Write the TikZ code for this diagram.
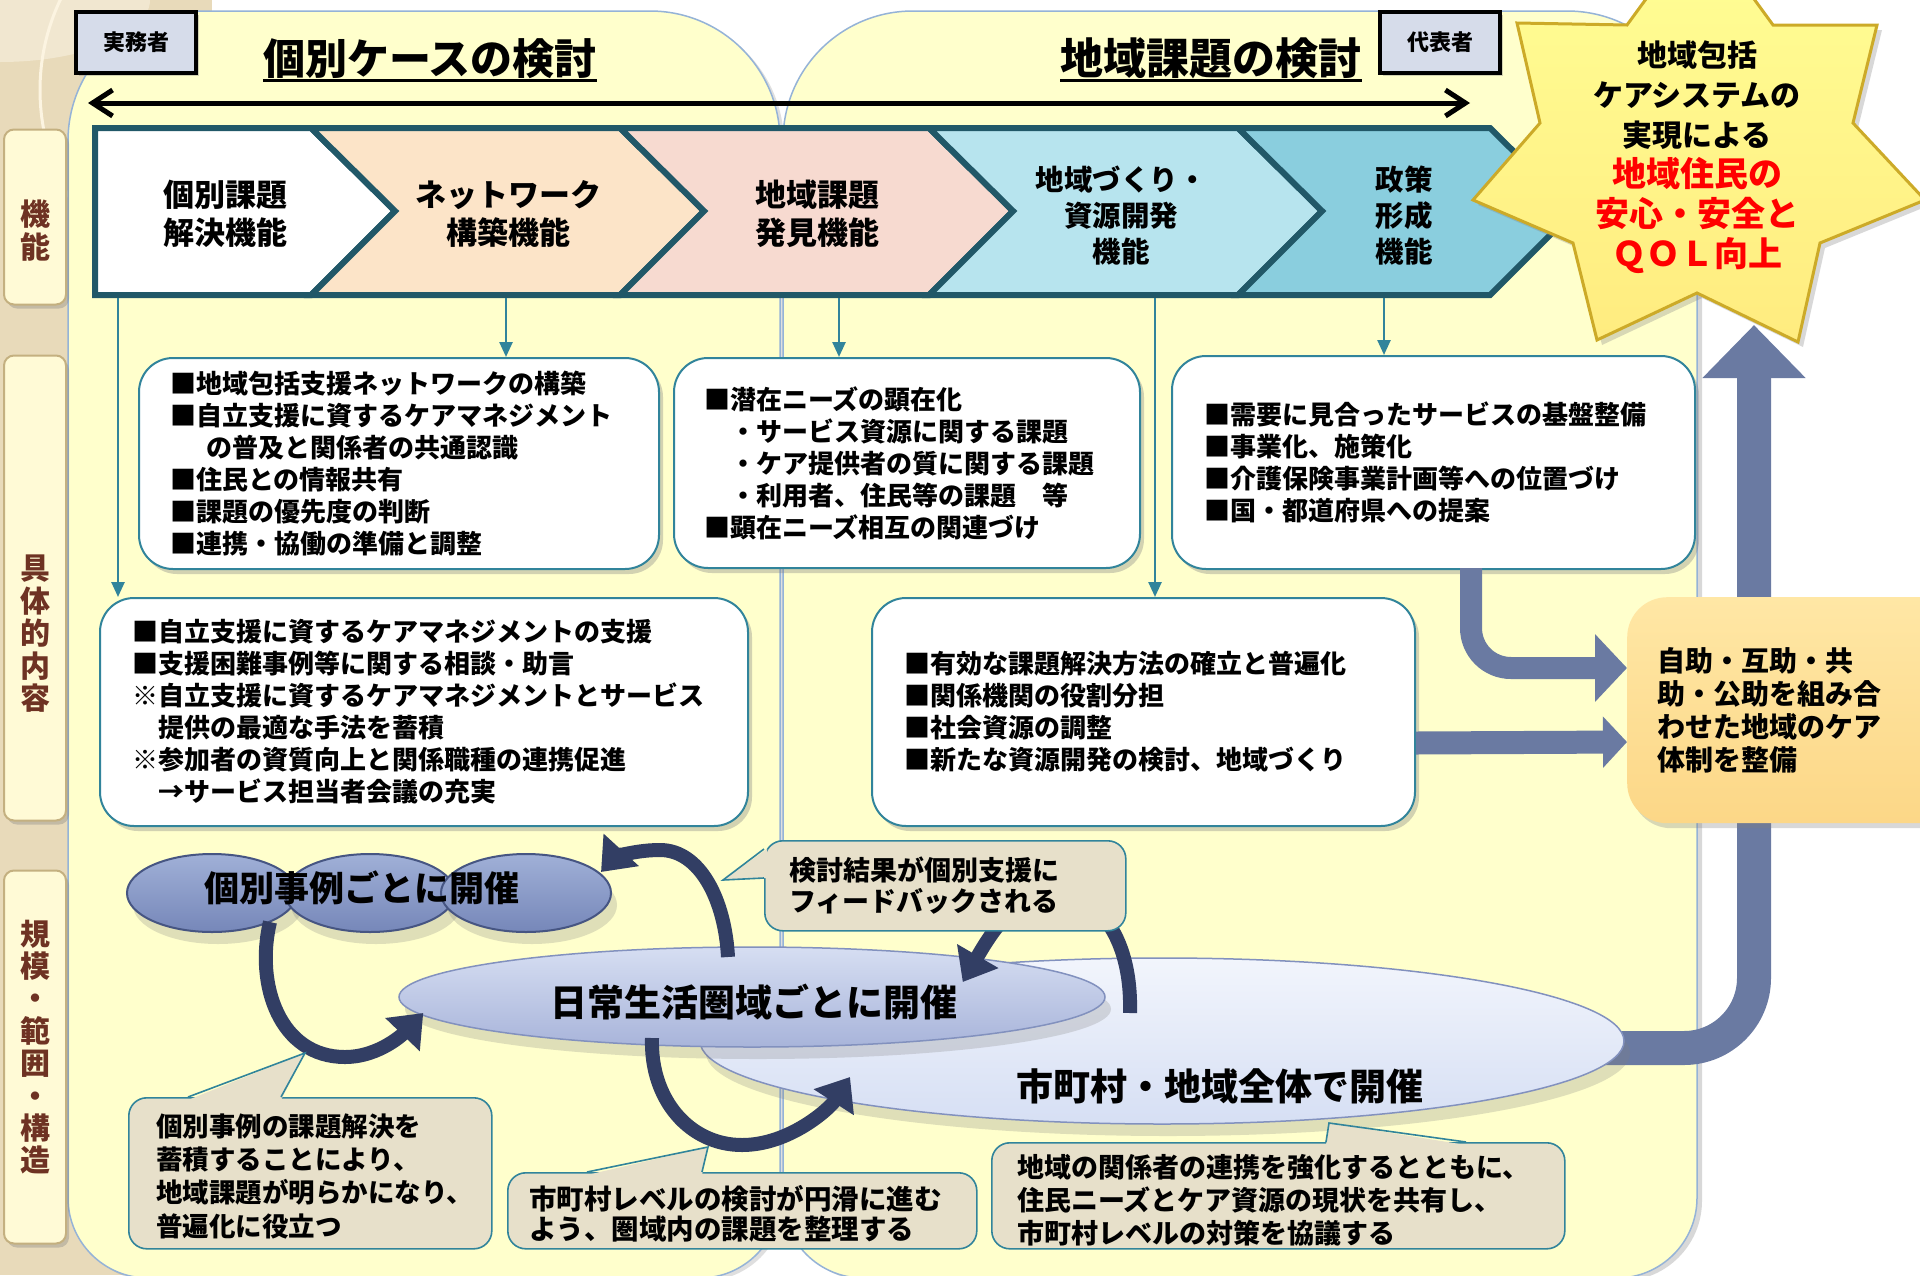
\documentclass[tikz,border=0pt]{standalone}
\usepackage{fontspec}
\setmainfont{Noto Sans CJK JP}
\usetikzlibrary{arrows.meta,shadows,shapes.geometric,calc}
\definecolor{panelc}{RGB}{255,255,204}
\definecolor{panelline}{RGB}{149,179,215}
\definecolor{beigec}{RGB}{232,218,186}
\definecolor{beigelt}{RGB}{241,231,208}
\definecolor{creamc}{RGB}{252,244,225}
\definecolor{barfill}{RGB}{255,250,214}
\definecolor{barline}{RGB}{196,176,128}
\definecolor{bartext}{RGB}{110,50,35}
\definecolor{tealc}{RGB}{49,132,155}
\definecolor{dtealc}{RGB}{33,88,104}
\definecolor{chevb}{RGB}{252,228,200}
\definecolor{chevc}{RGB}{247,218,208}
\definecolor{chevd}{RGB}{183,228,238}
\definecolor{cheve}{RGB}{138,206,222}
\definecolor{slatec}{RGB}{106,122,162}
\definecolor{navyc}{RGB}{50,62,100}
\definecolor{callc}{RGB}{231,224,202}
\definecolor{dtop}{RGB}{255,231,165}
\definecolor{dbot}{RGB}{252,215,135}
\definecolor{staryel}{RGB}{255,255,150}
\definecolor{starline}{RGB}{204,170,40}
\definecolor{ekt}{RGB}{160,176,215}
\definecolor{ekb}{RGB}{118,135,185}
\definecolor{ekline}{RGB}{70,85,130}
\definecolor{ent}{RGB}{214,222,242}
\definecolor{enb}{RGB}{168,180,218}
\definecolor{enline}{RGB}{130,145,190}
\definecolor{est}{RGB}{242,245,252}
\definecolor{esb}{RGB}{214,223,244}
\definecolor{rolec}{RGB}{214,220,234}
\definecolor{qred}{RGB}{255,0,0}
\newcommand{\jfs}[2]{\fontsize{#1}{#2}\selectfont\bfseries}
\begin{document}
\begin{tikzpicture}[x=1pt,y=-1pt,
  txt/.style={inner sep=0, align=left, anchor=west},
  ctxt/.style={inner sep=0, align=center},
  wbox/.style={draw=tealc, line width=2, fill=white, rounded corners=34, anchor=north west, inner sep=0,
    drop shadow={shadow xshift=4pt,shadow yshift=-5pt,opacity=.35}},
  callbox/.style={draw=tealc, line width=1.6, fill=callc, rounded corners=18, anchor=north west, inner sep=0},
  chev/.style={draw=dtealc, line width=6, line join=miter},
  conn/.style={draw=tealc, line width=2.5, -{Triangle[length=15pt,width=13pt]}},
  crv/.style={draw=navyc, line width=14, -{Triangle[length=30pt,width=46pt]}},
  lbar/.style={draw=barline, line width=2, fill=barfill, rounded corners=10, minimum width=62, inner sep=0,
    drop shadow={shadow xshift=3pt,shadow yshift=-4pt,opacity=.35}},
  role/.style={draw=black, line width=4, fill=rolec, minimum width=120, minimum height=61, inner sep=0,
    font=\jfs{22}{26}, drop shadow={shadow xshift=3pt,shadow yshift=-3pt,opacity=.35}},
  eshadow/.style={drop shadow={shadow xshift=6pt,shadow yshift=-12pt,opacity=.25}}
]
\useasboundingbox (0,0) rectangle (1920,1275);
\clip (0,0) rectangle (1920,1275);
% background
\fill[white] (0,0) rectangle (1920,1275);
\fill[beigec] (0,0) rectangle (212,1275);
\begin{scope}
  \clip (0,0) rectangle (212,1275);
  \fill[beigelt] (0,0) ellipse [x radius=150, y radius=62];
  \draw[creamc, line width=3] (250,90) circle [radius=210];
\end{scope}
% panels
\path[fill=panelc, draw=panelline, line width=1.5, drop shadow={shadow xshift=4pt,shadow yshift=-3pt,opacity=.25}]
  (68,1198) -- (68,141) .. controls (68,69) and (126,11) .. (198,11) -- (650,11)
  .. controls (722,11) and (780,69) .. (780,141) -- (780,1198)
  .. controls (780,1242) and (744,1278) .. (700,1278) -- (148,1278)
  .. controls (104,1278) and (68,1242) .. (68,1198) -- cycle;
\path[fill=panelc, draw=panelline, line width=1.5, drop shadow={shadow xshift=5pt,shadow yshift=-3pt,opacity=.3}]
  (783,1198) -- (783,141) .. controls (783,69) and (841,11) .. (913,11) -- (1567,11)
  .. controls (1639,11) and (1697,69) .. (1697,141) -- (1697,1198)
  .. controls (1697,1242) and (1661,1278) .. (1617,1278) -- (863,1278)
  .. controls (819,1278) and (783,1242) .. (783,1198) -- cycle;
% side bars
\node[lbar, minimum height=175] (bar1) at (35,217) {};
\node[lbar, minimum height=465] (bar2) at (35,588) {};
\node[lbar, minimum height=373] (bar3) at (35,1057) {};
\node[ctxt, text=bartext, font=\jfs{30}{33}] (bt1) at (35,231) {機\\能};
\node[ctxt, text=bartext, font=\jfs{30}{32.5}] (bt2) at (35,634) {具\\体\\的\\内\\容};
\node[ctxt, text=bartext, font=\jfs{30}{32.4}] (bt3) at (35,1047) {規\\模\\・\\範\\囲\\・\\構\\造};
% role boxes and titles
\node[role] (rj) at (136,42) {実務者};
\node[role] (rd) at (1440,42) {代表者};
\node[inner sep=0, anchor=base, font=\jfs{42}{46}] (t1) at (430,74) {個別ケースの検討};
\draw[line width=3] ($(t1.base west)+(0,6)$) -- ($(t1.base east)+(0,6)$);
\node[inner sep=0, anchor=base, font=\jfs{43}{46}] (t2) at (1211,74) {地域課題の検討};
\draw[line width=3] ($(t2.base west)+(0,6)$) -- ($(t2.base east)+(0,6)$);
\coordinate (al) at (88,103);
\coordinate (ar) at (1470,103);
\draw[line width=5, {Straight Barb[length=20pt,width=26pt]}-{Straight Barb[length=20pt,width=26pt]}] (al) -- (ar);
% chevrons
\path[chev, fill=white] (95,128) -- (311,128) -- (395,211) -- (311,295) -- (95,295) -- cycle;
\path[chev, fill=chevb] (311,128) -- (620,128) -- (704,211) -- (620,295) -- (311,295) -- (395,211) -- cycle;
\path[chev, fill=chevc] (620,128) -- (929,128) -- (1013,211) -- (929,295) -- (620,295) -- (704,211) -- cycle;
\path[chev, fill=chevd] (929,128) -- (1238,128) -- (1322,211) -- (1238,295) -- (929,295) -- (1013,211) -- cycle;
\path[chev, fill=cheve] (1238,128) -- (1490,128) -- (1574,211) -- (1490,295) -- (1238,295) -- (1322,211) -- cycle;
\node[ctxt, font=\jfs{31}{38}] (ch1) at (225,214) {個別課題\\解決機能};
\node[ctxt, font=\jfs{31}{38}] (ch2) at (508,214) {ネットワーク\\構築機能};
\node[ctxt, font=\jfs{31}{38}] (ch3) at (817,214) {地域課題\\発見機能};
\node[ctxt, font=\jfs{28.5}{36}] (ch4) at (1121,216) {地域づくり・\\資源開発\\機能};
\node[ctxt, font=\jfs{28.5}{36}] (ch5) at (1404,216) {政策\\形成\\機能};
\coordinate (c1b) at (118,298);
\coordinate (c2b) at (506,298);
\coordinate (c3b) at (839,298);
\coordinate (c4b) at (1155,298);
\coordinate (c5b) at (1384,298);
% content boxes
\node[wbox, minimum width=520, minimum height=211] (a1) at (138,357) {};
\node[txt, font=\jfs{26}{32}] (a1t) at ($(a1.west)+(32,0)$) {■地域包括支援ネットワークの構築\\■自立支援に資するケアマネジメント\\\hspace*{1.4em}の普及と関係者の共通認識\\■住民との情報共有\\■課題の優先度の判断\\■連携・協働の準備と調整};
\node[wbox, minimum width=466, minimum height=210] (b1) at (673,357) {};
\node[txt, font=\jfs{26}{32}] (b1t) at ($(b1.west)+(31,0)$) {■潜在ニーズの顕在化\\　・サービス資源に関する課題\\　・ケア提供者の質に関する課題\\　・利用者、住民等の課題　等\\■顕在ニーズ相互の関連づけ};
\node[wbox, minimum width=523, minimum height=213] (c1) at (1171,355) {};
\node[txt, font=\jfs{26}{32}] (c1t) at ($(c1.west)+(33,0)$) {■需要に見合ったサービスの基盤整備\\■事業化、施策化\\■介護保険事業計画等への位置づけ\\■国・都道府県への提案};
\node[wbox, minimum width=648, minimum height=228] (a2) at (99,597) {};
\node[txt, font=\jfs{26}{32}] (a2t) at ($(a2.west)+(33,0)$) {■自立支援に資するケアマネジメントの支援\\■支援困難事例等に関する相談・助言\\※自立支援に資するケアマネジメントとサービス\\　提供の最適な手法を蓄積\\※参加者の資質向上と関係職種の連携促進\\　→サービス担当者会議の充実};
\node[wbox, minimum width=543, minimum height=228] (b2) at (871,597) {};
\node[txt, font=\jfs{26}{32}] (b2t) at ($(b2.west)+(33,0)$) {■有効な課題解決方法の確立と普遍化\\■関係機関の役割分担\\■社会資源の調整\\■新たな資源開発の検討、地域づくり};
% chevron connectors
\draw[conn] (c1b) -- (c1b |- a2.north);
\draw[conn] (c2b) -- (c2b |- a1.north);
\draw[conn] (c3b) -- (c3b |- b1.north);
\draw[conn] (c4b) -- (c4b |- b2.north);
\draw[conn] (c5b) -- (c5b |- c1.north);
% big slate arrow to star
\coordinate (bigturn) at (1754,1048);
\coordinate (bigtip) at (1754,325);
\node[ellipse, inner sep=0, minimum width=924, minimum height=166] (shiref) at (1162,1041) {};
\draw[slatec, line width=34, rounded corners=70, -{Triangle[length=53pt,width=100pt]}] ($(shiref.east)+(-60,7)$) -- (bigturn) -- (bigtip);
% orange box
\node[anchor=north west, inner sep=0, minimum width=340, minimum height=226, rounded corners=40,
  top color=dtop, bottom color=dbot, drop shadow={shadow xshift=4pt,shadow yshift=-5pt,opacity=.3}] (d) at (1627,597) {};
\node[txt, font=\jfs{28}{33}] (dt) at ($(d.west)+(30,0)$) {自助・互助・共\\助・公助を組み合\\わせた地域のケア\\体制を整備};
% slate arrows into orange box
\draw[slatec, line width=22, rounded corners=40, -{Triangle[length=32pt,width=66pt]}] ($(c1.south west)+(300,-2)$) |- ($(d.north west)+(0,71)$);
\draw[slatec, line width=23, -{Triangle[length=24pt,width=50pt]}] ($(b2.east)+(0,31)$) -- ($(d.north west)+(0,145)$);
% ellipses
\node[ellipse, inner sep=0, minimum width=924, minimum height=166, top color=est, bottom color=esb, draw=enline, line width=1.5, eshadow] (shi) at (1162,1041) {};
\node[ellipse, inner sep=0, minimum width=706, minimum height=100, top color=ent, bottom color=enb, draw=enline, line width=1.5, eshadow] (nichi) at (752,997) {};
\node[ellipse, inner sep=0, minimum width=170, minimum height=78, top color=ekt, bottom color=ekb, draw=ekline, line width=2, eshadow] (k1) at (212,893) {};
\node[ellipse, inner sep=0, minimum width=170, minimum height=78, top color=ekt, bottom color=ekb, draw=ekline, line width=2, eshadow] (k2) at (370,893) {};
\node[ellipse, inner sep=0, minimum width=170, minimum height=78, top color=ekt, bottom color=ekb, draw=ekline, line width=2, eshadow] (k3) at (526,893) {};
\node[inner sep=0, font=\jfs{37}{40}] (shit) at (1220,1086) {市町村・地域全体で開催};
\node[inner sep=0, font=\jfs{37}{40}] (nicht) at (754,1002) {日常生活圏域ごとに開催};
\node[inner sep=0, font=\jfs{35}{40}] (kt) at (362,888) {個別事例ごとに開催};
% curved arrows
\draw[crv] ($(k1.center)+(58,29)$) .. controls (255,985) and (280,1057) .. (345,1057) .. controls (380,1057) and (405,1032) .. ($(nichi.west)+(25,16)$);
\draw[crv] ($(nichi.center)+(-24,-40)$) .. controls (725,900) and (700,850) .. (660,850) .. controls (630,850) and (612,860) .. ($(k3.east)+(-11,-21)$);
\draw[crv] ($(nichi.center)+(-100,41)$) .. controls (650,1100) and (690,1145) .. (742,1145) .. controls (790,1145) and (830,1108) .. ($(shi.center)+(-312,36)$);
\draw[crv] ($(shi.center)+(-32,-28)$) .. controls (1132,940) and (1100,895) .. (1055,893) .. controls (1015,893) and (990,935) .. ($(nichi.east)+(-143,-15)$);
% callouts
\node[callbox, minimum width=361, minimum height=90] (ca) at (764,840) {};
\coordinate (catip) at (723,880);
\fill[callc] ($(ca.north west)+(3,9)$) -- (catip) -- ($(ca.north west)+(3,38)$) -- cycle;
\draw[tealc, line width=1.6] ($(ca.north west)+(0,9)$) -- (catip) -- ($(ca.north west)+(0,38)$);
\node[txt, font=\jfs{27}{31}] (cat) at ($(ca.west)+(25,0)$) {検討結果が個別支援に\\フィードバックされる};
\node[callbox, minimum width=363, minimum height=151] (cb) at (128,1097) {};
\coordinate (cbtip) at (305,1053);
\fill[callc] ($(cb.north west)+(60,3)$) -- (cbtip) -- ($(cb.north west)+(153,3)$) -- cycle;
\draw[tealc, line width=1.6] ($(cb.north west)+(60,0)$) -- (cbtip) -- ($(cb.north west)+(153,0)$);
\node[txt, font=\jfs{26.5}{33.3}] (cbt) at ($(cb.west)+(28,3)$) {個別事例の課題解決を\\蓄積することにより、\\地域課題が明らかになり、\\普遍化に役立つ};
\node[callbox, minimum width=469, minimum height=76] (cc) at (507,1172) {};
\coordinate (cctip) at (708,1147);
\fill[callc] ($(cc.north west)+(80,3)$) -- (cctip) -- ($(cc.north west)+(195,3)$) -- cycle;
\draw[tealc, line width=1.6] ($(cc.north west)+(80,0)$) -- (cctip) -- ($(cc.north west)+(195,0)$);
\node[txt, font=\jfs{27.5}{30}] (cct) at ($(cc.west)+(22,3)$) {市町村レベルの検討が円滑に進む\\よう、圏域内の課題を整理する};
\node[callbox, minimum width=573, minimum height=106] (cd) at (991,1142) {};
\coordinate (cdtip) at (1329,1123);
\fill[callc] ($(cd.north west)+(335,3)$) -- (cdtip) -- ($(cd.north west)+(475,3)$) -- cycle;
\draw[tealc, line width=1.6] ($(cd.north west)+(335,0)$) -- (cdtip) -- ($(cd.north west)+(475,0)$);
\node[txt, font=\jfs{27}{33}] (cdt) at ($(cd.west)+(26,4)$) {地域の関係者の連携を強化するとともに、\\住民ニーズとケア資源の現状を共有し、\\市町村レベルの対策を協議する};
% star
\path[top color=staryel, bottom color=staryel!85!orange, draw=starline, line width=3, line join=miter,
  drop shadow={shadow xshift=5pt,shadow yshift=-5pt,opacity=.3}]
  (1700,-75) -- (1773,25) -- (1877,25) -- (1853,123) -- (1925,200) -- (1820,243) -- (1798,342)
  -- (1697,293) -- (1597,340) -- (1573,243) -- (1473,200) -- (1540,123) -- (1517,23) -- (1627,25) -- cycle;
\node[ctxt, font=\jfs{30}{40}] (star) at (1697,157) {地域包括\\ケアシステムの\\実現による\\\textcolor{qred}{\fontsize{34}{40}\selectfont 地域住民の}\\\textcolor{qred}{\fontsize{34}{40}\selectfont 安心・安全と}\\\textcolor{qred}{\fontsize{34}{40}\selectfont ＱＯＬ向上}};
\end{tikzpicture}
\end{document}
